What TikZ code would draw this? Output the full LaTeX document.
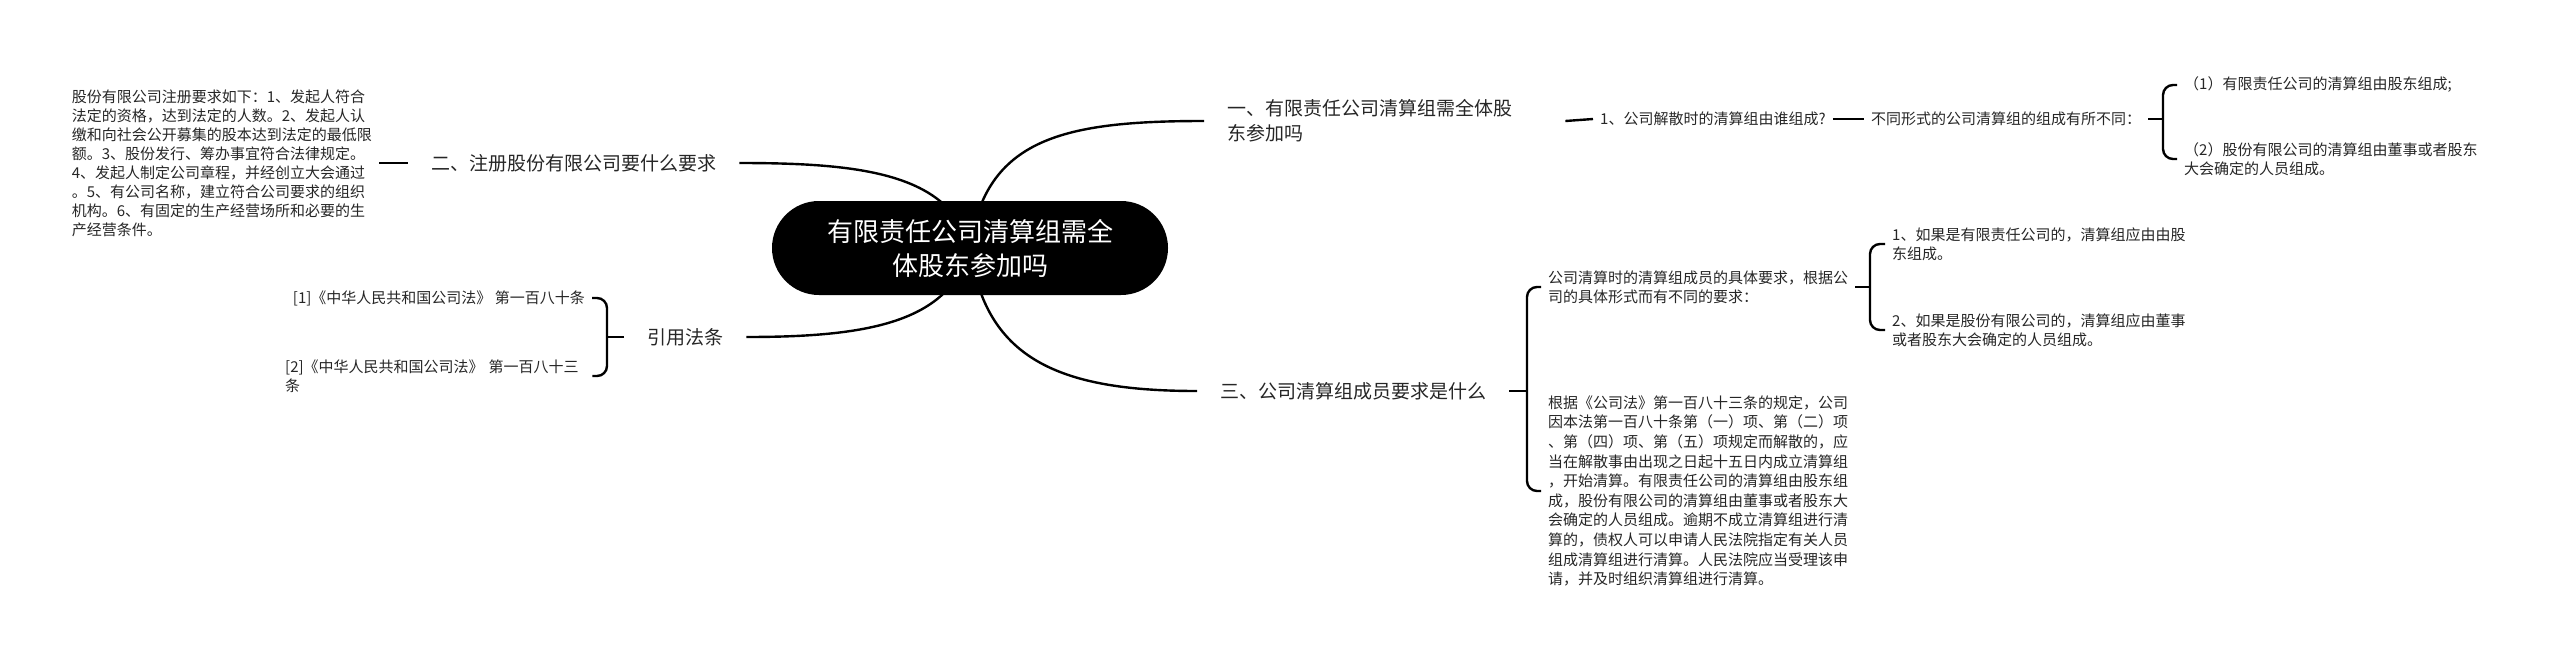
\documentclass[tikz,border=0pt]{standalone}
\usepackage{fontspec}
\setmainfont{Noto Sans CJK SC}
\usetikzlibrary{backgrounds}
\begin{document}
\begin{tikzpicture}[x=1pt, y=-1pt,
    topic/.style={fill=black, text=white, rounded corners=47pt, minimum width=396pt, minimum height=94pt, align=center, font=\fontsize{26}{34}\selectfont},
    branch/.style={inner xsep=23pt, inner ysep=4pt, text=black!85, font=\fontsize{19}{25}\selectfont},
    leaf/.style={inner xsep=7pt, inner ysep=3pt, text=black!85, align=left, font=\fontsize{15}{19}\selectfont},
    link/.style={line width=2.4pt}]
    \useasboundingbox (0,0) rectangle (2560,662);

    \node[topic] (root) at (970,248) {有限责任公司清算组需全\\体股东参加吗};

    \node[branch, anchor=west, text width=315pt, align=left] (b1) at (1204,121) {一、有限责任公司清算组需全体股\\东参加吗};
    \node[branch, anchor=west] (b3) at (1197,391) {三、公司清算组成员要求是什么};
    \node[branch, anchor=west] (b2) at (408,163) {二、注册股份有限公司要什么要求};
    \node[branch, anchor=west] (b4) at (624,337) {引用法条};

    \node[leaf, anchor=west] (l1) at (1593,119) {1、公司解散时的清算组由谁组成?};
    \node[leaf, anchor=west] (l2) at (1864,119) {不同形式的公司清算组的组成有所不同：};
    \node[leaf, anchor=west] (l3) at (2177,85) {（1）有限责任公司的清算组由股东组成;};
    \node[leaf, anchor=west] (l4) at (2177,159) {（2）股份有限公司的清算组由董事或者股东\\大会确定的人员组成。};

    \node[leaf, anchor=west] (l8) at (1541,287) {公司清算时的清算组成员的具体要求，根据公\\司的具体形式而有不同的要求：};
    \node[leaf, anchor=west, font=\fontsize{15}{19.6}\selectfont] (l9) at (1541,491) {根据《公司法》第一百八十三条的规定，公司\\因本法第一百八十条第（一）项、第（二）项\\、第（四）项、第（五）项规定而解散的，应\\当在解散事由出现之日起十五日内成立清算组\\，开始清算。有限责任公司的清算组由股东组\\成，股份有限公司的清算组由董事或者股东大\\会确定的人员组成。逾期不成立清算组进行清\\算的，债权人可以申请人民法院指定有关人员\\组成清算组进行清算。人民法院应当受理该申\\请，并及时组织清算组进行清算。};
    \node[leaf, anchor=west] (l10) at (1885,244) {1、如果是有限责任公司的，清算组应由由股\\东组成。};
    \node[leaf, anchor=west] (l11) at (1885,330) {2、如果是股份有限公司的，清算组应由董事\\或者股东大会确定的人员组成。};

    \node[leaf, anchor=east] (l5) at (379,163) {股份有限公司注册要求如下：1、发起人符合\\法定的资格，达到法定的人数。2、发起人认\\缴和向社会公开募集的股本达到法定的最低限\\额。3、股份发行、筹办事宜符合法律规定。\\4、发起人制定公司章程，并经创立大会通过\\。5、有公司名称，建立符合公司要求的组织\\机构。6、有固定的生产经营场所和必要的生\\产经营条件。};
    \node[leaf, anchor=east] (l6) at (592,298) {[1]《中华人民共和国公司法》 第一百八十条};
    \node[leaf, anchor=west, text width=300pt] (l7) at (278,376) {[2]《中华人民共和国公司法》 第一百八十三\\条};

    \begin{scope}[on background layer]
    \draw[link] (root.center) .. controls +(15,-110) and +(-140,0) .. (b1.west);
    \draw[link] (root.center) .. controls +(15,110) and +(-140,0) .. (b3.west);
    \draw[link] (root.center) .. controls +(-20,-75) and +(120,0) .. (b2.east);
    \draw[link] (root.center) .. controls +(-20,75) and +(120,0) .. (b4.east);
    \end{scope}

    \draw[link] (b1.east) -- (l1.west);
    \draw[link] (l1.east) -- (l2.west);
    \draw[link] (l2.east) -- ++(15,0);
    \draw[link, rounded corners=10pt] (l3.west) -- ++(-14,0) |- (l4.west);

    \draw[link] (b3.east) -- ++(18,0);
    \draw[link, rounded corners=10pt] (l8.west) -- ++(-14,0) |- (l9.west);
    \draw[link] (l8.east) -- ++(15,0);
    \draw[link, rounded corners=10pt] (l10.west) -- ++(-15,0) |- (l11.west);

    \draw[link] (l5.east) -- (b2.west);
    \draw[link] (b4.west) -- ++(-17,0);
    \draw[link, rounded corners=10pt] (l6.east) -- ++(15,0) |- (l7.east);
\end{tikzpicture}
\end{document}
